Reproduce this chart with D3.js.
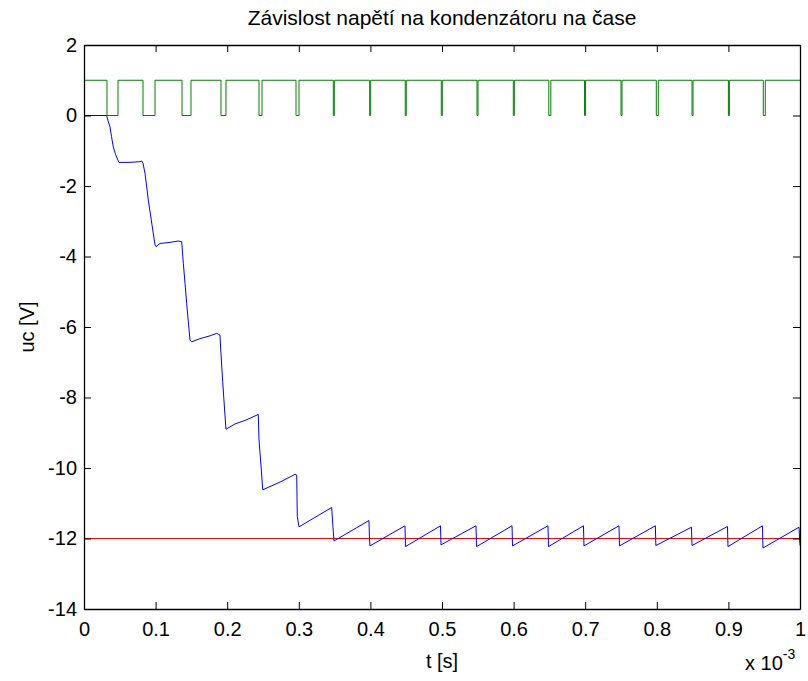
<!DOCTYPE html>
<html>
<head>
<meta charset="utf-8">
<script src="https://cdn.jsdelivr.net/npm/d3@7"></script>
<style>
  body { margin: 0; background: #fff; }
  text { font-family: "Liberation Sans", Arial, sans-serif; fill: #000; }
  .line { fill: none; stroke-width: 1px; }
</style>
</head>
<body>
<div id="chart"></div>
<script>
// time in units of 1e-3 s, voltage in V
var ucT = [0, 0.0154, 0.0317, 0.0335, 0.0363, 0.0384, 0.0409, 0.044, 0.0479, 0.0489, 0.0642, 0.0782, 0.0806,
  0.0824, 0.0852, 0.0898, 0.0946, 0.0992, 0.1006, 0.1061, 0.1201, 0.1317, 0.1365,
  0.1387, 0.1411, 0.1434, 0.1457, 0.148, 0.1504, 0.162, 0.176, 0.1853, 0.1899,
  0.1913, 0.1937, 0.1962, 0.1983, 0.2109, 0.2249, 0.2318, 0.2434,
  0.2444, 0.2482, 0.2496, 0.2737, 0.2947, 0.2971,
  0.2979, 0.3003, 0.3459, 0.3482, 0.3492, 0.398, 0.3987, 0.3994,
  0.4483, 0.449, 0.4979, 0.4986, 0.5475, 0.5482, 0.5978, 0.5985,
  0.648, 0.6487, 0.6976, 0.6983, 0.7472, 0.7479, 0.798, 0.7987,
  0.8484, 0.8492, 0.8987, 0.8994, 0.9476, 0.9483, 0.9986, 1.0];
var ucV = [0, 0, 0, -0.15, -0.32, -0.6, -0.89, -1.1, -1.29, -1.33, -1.33, -1.31, -1.29,
  -1.35, -1.64, -2.4, -3.05, -3.67, -3.72, -3.63, -3.6, -3.56, -3.58,
  -4.19, -4.76, -5.33, -5.85, -6.37, -6.42, -6.33, -6.25, -6.18, -6.23,
  -6.75, -7.55, -8.3, -8.9, -8.75, -8.65, -8.59, -8.48,
  -9.2, -10.2, -10.62, -10.4, -10.18, -10.2,
  -11.38, -11.67, -11.12, -11.81, -12.07, -11.49, -12.0, -12.21,
  -11.64, -12.23, -11.64, -12.18, -11.64, -12.23, -11.64, -12.21,
  -11.64, -12.23, -11.64, -12.21, -11.64, -12.21, -11.64, -12.2,
  -11.68, -12.2, -11.66, -12.23, -11.64, -12.27, -11.68, -12.2];

// control pulse: falls to 0 and rises back to 1
var pulseFall = [0.0321, 0.0824, 0.1369, 0.1913, 0.2444, 0.2961, 0.3482, 0.3990, 0.4487, 0.4990,
  0.5489, 0.5996, 0.6492, 0.6991, 0.7500, 0.7993, 0.8492, 0.9000, 0.9487];
var pulseRise = [0.0475, 0.0992, 0.1494, 0.1983, 0.2486, 0.3003, 0.3496, 0.4004, 0.4501, 0.5004,
  0.5503, 0.6010, 0.6520, 0.7005, 0.7514, 0.8021, 0.8506, 0.9014, 0.9515];

var refLevel = -12;

var xTicks = [0, 0.1, 0.2, 0.3, 0.4, 0.5, 0.6, 0.7, 0.8, 0.9, 1];
var yTicks = [2, 0, -2, -4, -6, -8, -10, -12, -14];

var width = 808, height = 681;
var margin = {top: 45, right: 8, bottom: 72, left: 84};
var w = width - margin.left - margin.right;
var h = height - margin.top - margin.bottom;

var xScale = d3.scaleLinear().domain([0, 1]).range([0, w]);
var yScale = d3.scaleLinear().domain([-14, 2]).range([h, 0]);

var svg = d3.select("#chart").append("svg")
  .attr("width", width)
  .attr("height", height);

svg.append("text")
  .attr("x", margin.left + w / 2)
  .attr("y", 25)
  .attr("text-anchor", "middle")
  .style("font-size", "21px")
  .text("Závislost napětí na kondenzátoru na čase");

var g = svg.append("g")
  .attr("transform", "translate(" + margin.left + "," + margin.top + ")");

g.append("defs").append("clipPath").attr("id", "clip")
  .append("rect").attr("width", w).attr("height", h);

var plot = g.append("g").attr("clip-path", "url(#clip)");

var pulseData = [[0, 1]];
pulseFall.forEach(function(f, i) {
  pulseData.push([f, 0]);
  pulseData.push([pulseRise[i], 1]);
});
pulseData.push([1, 1]);

var ucData = ucT.map(function(t, i) { return [t, ucV[i]]; });

var line = d3.line()
  .x(function(d) { return xScale(d[0]); })
  .y(function(d) { return yScale(d[1]); });

plot.append("path")
  .datum(pulseData)
  .attr("class", "line")
  .attr("stroke", "#008000")
  .attr("d", line.curve(d3.curveStepAfter));

plot.append("path")
  .datum([[0, refLevel], [1, refLevel]])
  .attr("class", "line")
  .attr("stroke", "#ff0000")
  .attr("d", line.curve(d3.curveLinear));

plot.append("path")
  .datum(ucData)
  .attr("class", "line")
  .attr("stroke", "#0000ff")
  .attr("d", line.curve(d3.curveLinear));

// axes, MATLAB style box with inward ticks
var tick = 7;
var fmt = function(d) { return String(d); };

var xb = g.append("g").attr("transform", "translate(0," + h + ")")
  .call(d3.axisBottom(xScale).tickValues(xTicks).tickSizeInner(-tick).tickSizeOuter(0).tickPadding(13).tickFormat(fmt));
var xt = g.append("g")
  .call(d3.axisTop(xScale).tickValues(xTicks).tickSizeInner(-tick).tickSizeOuter(0).tickFormat(""));
var yl = g.append("g")
  .call(d3.axisLeft(yScale).tickValues(yTicks).tickSizeInner(-tick).tickSizeOuter(0).tickPadding(7).tickFormat(fmt));
var yr = g.append("g").attr("transform", "translate(" + w + ",0)")
  .call(d3.axisRight(yScale).tickValues(yTicks).tickSizeInner(-tick).tickSizeOuter(0).tickFormat(""));

[xb, xt, yl, yr].forEach(function(a) {
  a.select(".domain").attr("stroke", "#000").attr("stroke-width", 1.3);
  a.selectAll(".tick line").attr("stroke", "#000");
  a.selectAll("text").style("font-size", "20px").attr("fill", "#000");
});

svg.append("text")
  .attr("x", margin.left + w / 2)
  .attr("y", 668)
  .attr("text-anchor", "middle")
  .style("font-size", "20px")
  .text("t [s]");

svg.append("text")
  .attr("transform", "translate(34," + (margin.top + h / 2) + ") rotate(-90)")
  .attr("text-anchor", "middle")
  .style("font-size", "20px")
  .text("uc [V]");

var exp = svg.append("text")
  .attr("x", 745)
  .attr("y", 670)
  .style("font-size", "20px");
exp.append("tspan").text("x 10");
exp.append("tspan").attr("dy", -11).style("font-size", "14px").text("-3");
</script>
</body>
</html>
